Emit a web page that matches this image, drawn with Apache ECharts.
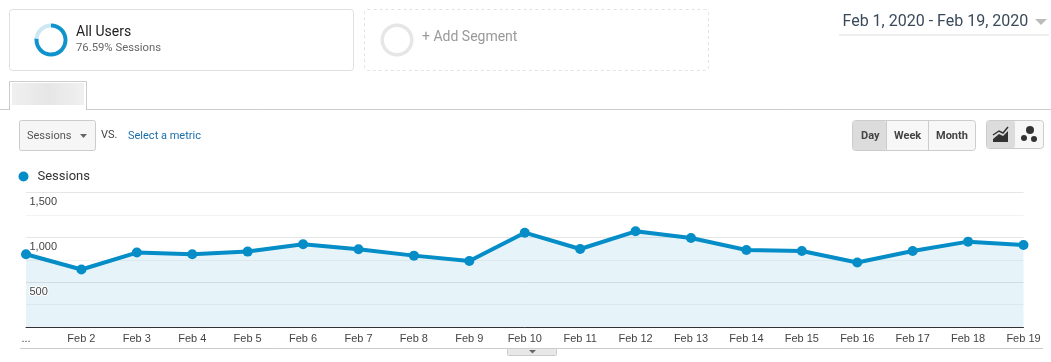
<!DOCTYPE html>
<html>
<head>
<meta charset="utf-8">
<style>
  html, body { margin: 0; padding: 0; background: #fff; }
  #main { width: 1051px; height: 362px; }
</style>
<script src="https://cdn.jsdelivr.net/npm/echarts@6/dist/echarts.min.js"></script>
</head>
<body>
<div id="main"></div>
<script>
var dates = ['...', 'Feb 2', 'Feb 3', 'Feb 4', 'Feb 5', 'Feb 6', 'Feb 7', 'Feb 8', 'Feb 9', 'Feb 10',
  'Feb 11', 'Feb 12', 'Feb 13', 'Feb 14', 'Feb 15', 'Feb 16', 'Feb 17', 'Feb 18', 'Feb 19'];
var sessions = [811, 641, 830, 811, 841, 922, 867, 796, 737, 1052, 870, 1067, 992, 859, 848, 719, 848, 952, 915];
var segmentShare = [76.59, 23.41];

var blue = '#058dc7';
var uiFont = 'Roboto, "Liberation Sans", sans-serif';
var axisFont = '"Liberation Sans", Arial, sans-serif';

function box(x, y, w, h, fill, stroke, r, dash) {
  return { type: 'rect', silent: true, z: 1,
    shape: { x: x, y: y, width: w, height: h, r: r || 0 },
    style: { fill: fill, stroke: stroke, lineWidth: 1, lineDash: dash || null } };
}
function label(txt, x, y, size, color, weight, family) {
  return { type: 'text', silent: true, z: 3, x: x, y: y,
    style: { text: txt, fill: color, font: (weight || 'normal') + ' ' + size + 'px ' + (family || uiFont), textVerticalAlign: 'middle' } };
}
function line(x1, y1, x2, y2, color, width) {
  return { type: 'line', silent: true, z: 2,
    shape: { x1: x1, y1: y1, x2: x2, y2: y2 }, style: { stroke: color, lineWidth: width || 1 } };
}
function tri(points, color) {
  return { type: 'polygon', silent: true, z: 3, shape: { points: points }, style: { fill: color } };
}
function dot(cx, cy, r, color) {
  return { type: 'circle', silent: true, z: 3, shape: { cx: cx, cy: cy, r: r }, style: { fill: color } };
}

var chrome = [
  // segment boxes
  box(9.5, 9.5, 344, 61, '#fff', '#dfdfdf', 3),
  label('All Users', 76, 32, 14, '#222'),
  label('76.59% Sessions', 76, 48, 11.3, '#666'),
  box(364.5, 9.5, 344, 61, '#fff', '#e2e2e2', 3, [3, 3]),
  { type: 'ring', silent: true, z: 2, shape: { cx: 397, cy: 40, r: 16.5, r0: 13 }, style: { fill: '#e6e6e6' } },
  label('+ Add Segment', 422, 37, 14, '#999'),
  // date range
  label('Feb 1, 2020 - Feb 19, 2020', 842.5, 22, 16, '#3a4a5a'),
  tri([[1035, 19], [1047, 19], [1041, 25]], '#bbb'),
  line(839, 35, 1049, 35, '#eee', 2),
  // tab, the name is blurred out in the source
  line(0, 109.5, 1051, 109.5, '#ccc'),
  box(9.5, 81.5, 77, 28, '#fff', '#ccc', 0),
  line(10, 109.5, 86, 109.5, '#fff'),
  { type: 'rect', silent: true, z: 2, shape: { x: 12, y: 83, width: 72, height: 22 },
    style: { fill: { type: 'linear', x: 0, y: 0, x2: 1, y2: 0, colorStops: [
      { offset: 0, color: '#f0f0f0' }, { offset: 0.5, color: '#e6e6e6' }, { offset: 1, color: '#f0f0f0' }] } } },
  // metric picker
  box(19.5, 120.5, 76, 30, '#f6f6f6', '#ccc', 2),
  label('Sessions', 27, 136.5, 11, '#555'),
  tri([[80, 134], [87, 134], [83.5, 138]], '#666'),
  label('VS.', 101, 135, 11, '#444'),
  label('Select a metric', 128, 136.5, 11, '#1a6ea8'),
  // day week month
  box(852.5, 120.5, 123, 30, '#f7f7f7', '#ccc', 3),
  box(853, 121, 33, 29, '#dcdcdc', 'transparent', 2),
  line(886.5, 121, 886.5, 150, '#ccc'),
  line(928.5, 121, 928.5, 150, '#ccc'),
  label('Day', 861, 136.5, 11, '#444', 'bold'),
  label('Week', 894, 136.5, 11, '#444', 'bold'),
  label('Month', 936, 136.5, 11, '#444', 'bold'),
  // chart type switch
  box(986.5, 120.5, 57, 28, '#f7f7f7', '#ccc', 3),
  box(987, 121, 28, 27, '#dcdcdc', 'transparent', 2),
  { type: 'polygon', silent: true, z: 3,
    shape: { points: [[993, 139], [999, 134], [1003, 136], [1008, 131], [1008, 142], [993, 142]] }, style: { fill: '#333' } },
  { type: 'polyline', silent: true, z: 3,
    shape: { points: [[993, 135], [999, 131], [1003, 133], [1008, 127]] }, style: { stroke: '#333', fill: 'none', lineWidth: 1.5 } },
  dot(1030, 130, 4, '#333'),
  dot(1024, 138, 3, '#333'),
  dot(1034, 139, 3, '#333'),
  // bottom rule and expander
  line(20, 348.5, 1043, 348.5, '#ccc'),
  box(507.5, 348.5, 49, 7, '#e8e8e8', '#ccc', 1),
  tri([[529, 350], [536, 350], [532.5, 353.5]], '#666')
];

var myChart = echarts.init(document.getElementById('main'), null, { renderer: 'canvas' });
var option = {
  animation: false,
  backgroundColor: '#fff',
  graphic: chrome,
  legend: {
    left: 13.5, top: 165,
    icon: 'circle', itemWidth: 10, itemHeight: 10,
    selectedMode: false,
    data: ['Sessions'],
    textStyle: { fontFamily: uiFont, fontSize: 13, color: '#333', padding: [0, 0, 0, 4] }
  },
  grid: { left: 26, right: 27.5, top: 192.5, height: 134.5 },
  xAxis: {
    type: 'category',
    data: dates,
    boundaryGap: false,
    axisTick: { show: false },
    axisLine: { lineStyle: { color: '#333', width: 1 } },
    axisLabel: { interval: 0, margin: 6, color: '#444', fontFamily: axisFont, fontSize: 11 }
  },
  yAxis: [
    {
      // gridlines stay under the fill
      type: 'value',
      min: 0, max: 1500, interval: 500,
      axisLine: { show: false },
      axisTick: { show: false },
      axisLabel: { show: false },
      minorTick: { show: false, splitNumber: 2 },
      splitLine: { lineStyle: { color: '#e6e6e6' } },
      minorSplitLine: { show: true, lineStyle: { color: '#f3f3f3' } }
    },
    {
      // labels sit on top of the fill
      type: 'value',
      position: 'left',
      min: 0, max: 1500, interval: 500,
      z: 5,
      axisLine: { show: false },
      axisTick: { show: false },
      splitLine: { show: false },
      axisLabel: {
        inside: true, margin: 3.5, verticalAlign: 'top', padding: [4, 0, 0, 0],
        color: '#444', fontFamily: axisFont, fontSize: 11,
        textBorderColor: '#fff', textBorderWidth: 2,
        showMinLabel: false,
        formatter: function (v) { return v === 0 ? '' : v.toLocaleString('en-US'); }
      }
    }
  ],
  series: [
    {
      name: 'Sessions', type: 'line', data: sessions, yAxisIndex: 0,
      symbol: 'circle', symbolSize: 10, showSymbol: true,
      itemStyle: { color: blue },
      lineStyle: { color: blue, width: 4 },
      areaStyle: { color: blue, opacity: 0.1 }
    },
    {
      type: 'pie', center: [51, 40], radius: [12.5, 16.5],
      startAngle: 90, clockwise: true, silent: true,
      legendHoverLink: false,
      label: { show: false }, labelLine: { show: false },
      data: [
        { name: 'All Users', value: segmentShare[0], itemStyle: { color: '#0f93cc' } },
        { name: 'Other', value: segmentShare[1], itemStyle: { color: '#cde8f5' } }
      ]
    }
  ]
};
myChart.setOption(option);
</script>
</body>
</html>
